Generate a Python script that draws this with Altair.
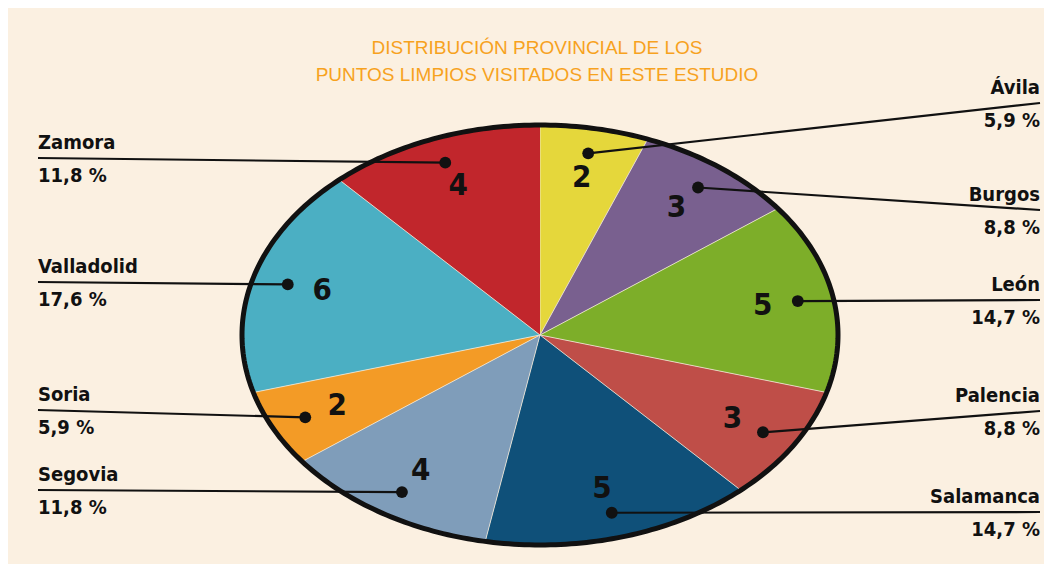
import altair as alt
import pandas as pd

# ---------------- data ----------------
provincias = ["Ávila", "Burgos", "León", "Palencia", "Salamanca",
              "Segovia", "Soria", "Valladolid", "Zamora"]
puntos = [2, 3, 5, 3, 5, 4, 2, 6, 4]
colores = ["#E5D73B", "#79608F", "#7DAE29", "#BF4E48", "#0F5079",
           "#7F9DBA", "#F39B26", "#4BAFC3", "#C1262C"]
titulo = ["DISTRIBUCIÓN PROVINCIAL DE LOS",
          "PUNTOS LIMPIOS VISITADOS EN ESTE ESTUDIO"]

# ---------------- layout ----------------
CX, CY, RX, RY = 540, 335, 298, 210
LINEA_Y = {"Ávila": 103, "Burgos": 210, "León": 300, "Palencia": 411,
           "Salamanca": 512, "Segovia": 490, "Soria": 410,
           "Valladolid": 282, "Zamora": 158}
N = 90
FONT_C = "Liberation Sans Narrow, DejaVu Sans Condensed, Arial Narrow, sans-serif"

df = pd.DataFrame({"provincia": provincias, "valor": puntos,
                   "orden": list(range(len(provincias)))})
df["linea_y"] = df["provincia"].map(LINEA_Y)
df["pasos"] = [list(range(N + 1)) for _ in range(len(df))]

X = dict(scale=alt.Scale(domain=[8, 1044], nice=False, zero=False), axis=None)
Y = dict(scale=alt.Scale(domain=[8, 564], nice=False, zero=False, reverse=True), axis=None)


def base():
    return (alt.Chart(df)
            .transform_joinaggregate(total="sum(valor)")
            .transform_window(acum="sum(valor)", sort=[alt.SortField("orden")],
                              frame=[None, 0])
            .transform_calculate(a0="2*PI*(datum.acum-datum.valor)/datum.total",
                                 a1="2*PI*datum.acum/datum.total")
            .transform_calculate(am="(datum.a0+datum.a1)/2")
            .transform_calculate(
                dx=f"{CX}+0.88*{RX}*sin(datum.am)",
                dy=f"{CY}-0.88*{RY}*cos(datum.am)",
                nx=f"{CX}+0.76*{RX}*sin(datum.am)",
                ny=f"{CY}-0.76*{RY}*cos(datum.am)",
                lx="datum.am < PI ? 1040 : 38",
                ly="datum.linea_y",
                ny_name="datum.linea_y - 15",
                ny_pct="datum.linea_y + 18",
                pct="replace(format(datum.valor/datum.total*100, '.1f'), '.', ',') + ' %'"))


# slices as filled polygons on an ellipse
slices = (base()
          .transform_flatten(["pasos"], as_=["paso"])
          .transform_calculate(
              ang=f"datum.a0 + (datum.a1-datum.a0)*(datum.paso-1)/{N-1}")
          .transform_calculate(
              px=f"datum.paso == 0 ? {CX} : {CX}+{RX}*sin(datum.ang)",
              py=f"datum.paso == 0 ? {CY} : {CY}-{RY}*cos(datum.ang)")
          .mark_line(filled=True, stroke="#F3EAD9", strokeWidth=0.8)
          .encode(x=alt.X("px:Q", **X), y=alt.Y("py:Q", **Y),
                  fill=alt.Fill("provincia:N",
                                scale=alt.Scale(domain=provincias, range=colores),
                                legend=None),
                  order=alt.Order("paso:Q")))

outline = (alt.Chart(alt.sequence(0, 361, 1, as_="t"))
           .transform_calculate(px=f"{CX}+{RX}*sin(datum.t*PI/180)",
                                py=f"{CY}-{RY}*cos(datum.t*PI/180)")
           .mark_line(color="#111111", strokeWidth=5)
           .encode(x=alt.X("px:Q", **X), y=alt.Y("py:Q", **Y),
                   order=alt.Order("t:Q")))

leaders = (base()
           .mark_rule(color="#111111", strokeWidth=2.2)
           .encode(x=alt.X("dx:Q", **X), y=alt.Y("dy:Q", **Y),
                   x2="lx:Q", y2="ly:Q"))

dots = (base()
        .mark_circle(color="#111111", size=140, opacity=1)
        .encode(x=alt.X("dx:Q", **X), y=alt.Y("dy:Q", **Y)))

numbers = (base()
           .mark_text(font=FONT_C, fontSize=31, fontWeight="bold",
                      color="#111111", baseline="middle", align="center")
           .encode(x=alt.X("nx:Q", **X), y=alt.Y("ny:Q", **Y),
                   text="valor:Q"))


def side_text(field, right):
    flt = "datum.am < PI" if right else "datum.am >= PI"
    return (base().transform_filter(flt)
            .mark_text(font=FONT_C, fontSize=20, fontWeight="bold",
                       color="#111111", baseline="middle",
                       align="right" if right else "left")
            .encode(x=alt.X("lx:Q", **X),
                    y=alt.Y(("ny_name" if field == "provincia" else "ny_pct") + ":Q", **Y),
                    text=f"{field}:N"))


labels = [side_text("provincia", True), side_text("provincia", False),
          side_text("pct", True), side_text("pct", False)]

title = (alt.Chart(pd.DataFrame({"linea": titulo, "n": [0, 1]}))
         .transform_calculate(tx="537", ty="48 + datum.n*27")
         .mark_text(font="Liberation Sans, Arial, sans-serif", fontSize=19,
                    color="#F7A21E", baseline="middle", align="center")
         .encode(x=alt.X("tx:Q", **X), y=alt.Y("ty:Q", **Y), text="linea:N"))

chart = (alt.layer(slices, outline, leaders, dots, numbers, *labels, title)
         .properties(width=1036, height=556, background="#FBF0E1", padding=0,
                     autosize=alt.AutoSizeParams(type="fit", contains="padding"))
         .configure_view(strokeWidth=0))

chart.save("out.html", embed_options={"renderer": "svg", "actions": False})
